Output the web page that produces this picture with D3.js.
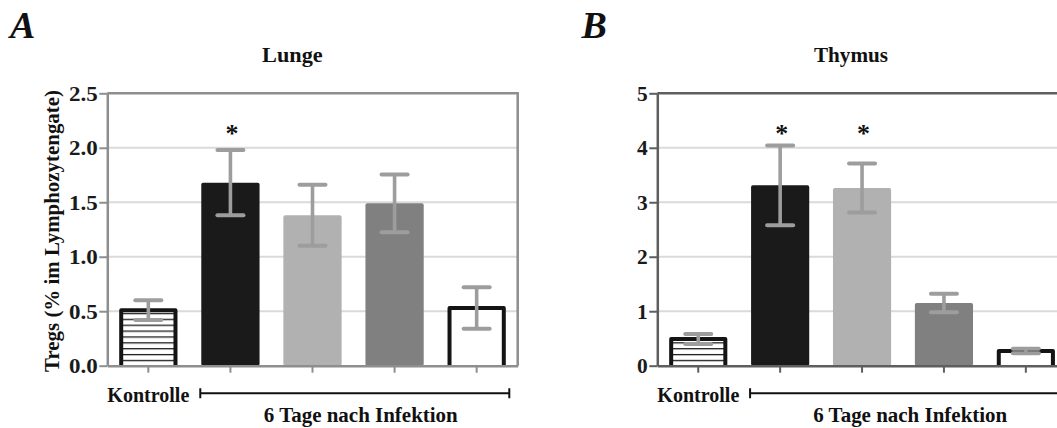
<!DOCTYPE html>
<html>
<head>
<meta charset="utf-8">
<script src="https://cdn.jsdelivr.net/npm/d3@7"></script>
<style>
  html, body { margin: 0; padding: 0; background: #fff; }
  svg text { font-family: "Liberation Serif", "Times New Roman", Times, serif !important; font-weight: bold; }
</style>
</head>
<body>
<script>
// Groups: control plus four infected groups (6 days post infection)
const groups = ["K", "I1", "I2", "I3", "I4"];
const controlLabel = "Kontrolle";
const infectionLabel = "6 Tage nach Infektion";
const yAxisLabel = "Tregs (% im Lymphozytengate)";

// Lung (Lunge): mean and SEM
const lungeMeans = [0.51, 1.68, 1.38, 1.49, 0.53];
const lungeErr   = [0.09, 0.30, 0.28, 0.265, 0.19];
const lungeSig   = [false, true, false, false, false];
const lungeStarLevel = 2.16;
const lungeTicks = [0, 0.5, 1.0, 1.5, 2.0, 2.5];

// Thymus: mean and SEM
const thymusMeans = [0.49, 3.31, 3.26, 1.15, 0.27];
const thymusErr   = [0.09, 0.73, 0.45, 0.17, 0.04];
const thymusSig   = [false, true, true, false, false];
const thymusStarLevel = 4.32;
const thymusTicks = [0, 1, 2, 3, 4, 5];

// Bar appearance per group
const barStyle = [
  { fill: "url(#stripes)", outline: true },
  { fill: "#1a1a1a", outline: false },
  { fill: "#b1b1b1", outline: false },
  { fill: "#808080", outline: false },
  { fill: "#ffffff", outline: true }
];

const W = 1057, H = 428;
const plotTop = 93.3, plotBottom = 365.7;

const panels = [
  { letter: "A", title: "Lunge", means: lungeMeans, errs: lungeErr, sig: lungeSig,
    starLevel: lungeStarLevel, ticks: lungeTicks, fmt: d3.format(".1f"),
    left: 107.3, right: 517.7, letterX: 10, titleX: 292.4, titleLen: 60.6,
    axisColor: "#8e8e8e", tickStretch: 1.15, yLabel: true },
  { letter: "B", title: "Thymus", means: thymusMeans, errs: thymusErr, sig: thymusSig,
    starLevel: thymusStarLevel, ticks: thymusTicks, fmt: d3.format("d"),
    left: 657.3, right: 1066.8, letterX: 581.5, titleX: 851, titleLen: 74,
    axisColor: "#5e5e5e", tickStretch: 1.07, yLabel: false }
];

const svg = d3.select("body").append("svg")
  .attr("width", W).attr("height", H)
  .attr("viewBox", `0 0 ${W} ${H}`);

// horizontal hatching for the control bar
const pat = svg.append("defs").append("pattern")
  .attr("id", "stripes")
  .attr("patternUnits", "userSpaceOnUse")
  .attr("width", 10).attr("height", 5.87)
  .attr("y", plotBottom);
pat.append("rect").attr("width", 10).attr("height", 5.87).attr("fill", "#fff");
pat.append("rect").attr("y", 0).attr("width", 10).attr("height", 1.3).attr("fill", "#1c1c1c");

function stretch(sel, factor) {
  sel.each(function () {
    const len = this.getComputedTextLength();
    d3.select(this).attr("textLength", len * factor).attr("lengthAdjust", "spacingAndGlyphs");
  });
}

function drawPanel(p) {
  const g = svg.append("g");
  const yMax = p.ticks[p.ticks.length - 1];

  const x = d3.scaleBand().domain(groups)
    .range([p.left, p.right])
    .paddingInner(0.29).paddingOuter(0.145);
  const y = d3.scaleLinear().domain([0, yMax]).range([plotBottom, plotTop]);
  const bw = x.bandwidth();
  const sw = 4;

  // panel letter and title
  g.append("text")
    .attr("x", p.letterX).attr("y", 38.3)
    .attr("font-size", 38).attr("font-style", "italic").attr("fill", "#111")
    .text(p.letter);
  g.append("text")
    .attr("x", p.titleX).attr("y", 62.3)
    .attr("text-anchor", "middle").attr("font-size", 21).attr("fill", "#111")
    .attr("textLength", p.titleLen).attr("lengthAdjust", "spacingAndGlyphs")
    .text(p.title);

  // gridlines
  g.selectAll("line.grid")
    .data(p.ticks.filter(t => t > 0 && t < yMax))
    .join("line")
    .attr("x1", p.left).attr("x2", p.right)
    .attr("y1", d => y(d)).attr("y2", d => y(d))
    .attr("stroke", "#dadada").attr("stroke-width", 2);

  const data = groups.map((k, i) => ({ k, i, m: p.means[i], e: p.errs[i], s: barStyle[i], sig: p.sig[i] }));

  // bars
  g.selectAll("rect.bar").data(data).join("rect")
    .attr("x", d => d.s.outline ? x(d.k) + sw / 2 : x(d.k))
    .attr("width", d => d.s.outline ? bw - sw : bw)
    .attr("y", d => y(d.m))
    .attr("height", d => y(0) - y(d.m))
    .attr("rx", d => d.s.outline ? 0 : 1.8)
    .attr("fill", d => d.s.fill);

  // open outlines (left, top, right) for the hollow bars
  g.selectAll("path.outline").data(data.filter(d => d.s.outline)).join("path")
    .attr("d", d => {
      const xl = x(d.k) + sw / 2, xr = x(d.k) + bw - sw / 2;
      return `M${xl},${y(0)}V${y(d.m)}H${xr}V${y(0)}`;
    })
    .attr("fill", "none").attr("stroke", "#141414")
    .attr("stroke-width", sw).attr("stroke-linejoin", "round");

  // error bars
  const eb = g.selectAll("g.err").data(data).join("g").attr("stroke", "#9d9d9d");
  eb.append("line")
    .attr("x1", d => x(d.k) + bw / 2).attr("x2", d => x(d.k) + bw / 2)
    .attr("y1", d => y(d.m - d.e)).attr("y2", d => y(d.m + d.e))
    .attr("stroke-width", 3.6);
  [-1, 1].forEach(sgn => {
    eb.append("line")
      .attr("x1", d => x(d.k) + bw / 2 - 13).attr("x2", d => x(d.k) + bw / 2 + 13)
      .attr("y1", d => y(d.m + sgn * d.e)).attr("y2", d => y(d.m + sgn * d.e))
      .attr("stroke-width", 4).attr("stroke-linecap", "round");
  });

  // significance asterisks
  g.selectAll("text.star").data(data.filter(d => d.sig)).join("text")
    .attr("x", d => x(d.k) + bw / 2 + 1.5)
    .attr("y", y(p.starLevel) + 12)
    .attr("text-anchor", "middle").attr("font-size", 26).attr("fill", "#111")
    .text("*");

  // frame: top and right edges
  g.append("path")
    .attr("d", `M${p.left},${plotTop}H${p.right}V${plotBottom}`)
    .attr("fill", "none").attr("stroke", p.axisColor).attr("stroke-width", 2.5);

  // x axis
  const xAxis = g.append("g").attr("transform", `translate(0,${plotBottom})`)
    .call(d3.axisBottom(x).tickSize(7).tickSizeOuter(0).tickFormat(""));
  xAxis.select(".domain").attr("stroke", p.axisColor).attr("stroke-width", 2.5);
  xAxis.selectAll(".tick line").attr("stroke", p.axisColor).attr("stroke-width", 2);

  // y axis
  const yAxis = g.append("g").attr("transform", `translate(${p.left},0)`)
    .call(d3.axisLeft(y).tickValues(p.ticks).tickSize(8).tickSizeOuter(0).tickFormat(p.fmt));
  yAxis.attr("font-family", null).attr("font-size", null);
  yAxis.select(".domain").attr("stroke", p.axisColor).attr("stroke-width", 2.5);
  yAxis.selectAll(".tick line").attr("stroke", p.axisColor).attr("stroke-width", 2);
  const tl = yAxis.selectAll(".tick text")
    .attr("x", -9.5).attr("dy", null).attr("y", 7)
    .attr("font-size", 20).attr("fill", "#1a1a1a");
  stretch(tl, p.tickStretch);

  // group annotation under the axis
  g.append("text")
    .attr("x", p.left).attr("y", 401.7)
    .attr("font-size", 20).attr("fill", "#111")
    .attr("textLength", 82).attr("lengthAdjust", "spacingAndGlyphs")
    .text(controlLabel);

  const bx1 = x(groups[1]) - 1, bx2 = x(groups[4]) + bw + 3.5, by = 393.3;
  g.append("path")
    .attr("d", `M${bx1},${by}H${bx2}M${bx1},${by - 5}V${by + 5}M${bx2},${by - 5}V${by + 5}`)
    .attr("fill", "none").attr("stroke", "#111").attr("stroke-width", 2);
  g.append("text")
    .attr("x", (bx1 + bx2) / 2 + 6).attr("y", 421.5)
    .attr("text-anchor", "middle").attr("font-size", 20).attr("fill", "#111")
    .attr("textLength", 194).attr("lengthAdjust", "spacingAndGlyphs")
    .text(infectionLabel);

  if (p.yLabel) {
    g.append("text")
      .attr("transform", `translate(58.5,231) rotate(-90)`)
      .attr("text-anchor", "middle").attr("font-size", 20).attr("fill", "#111")
      .attr("textLength", 282).attr("lengthAdjust", "spacingAndGlyphs")
      .text(yAxisLabel);
  }
}

panels.forEach(drawPanel);
</script>
</body>
</html>
